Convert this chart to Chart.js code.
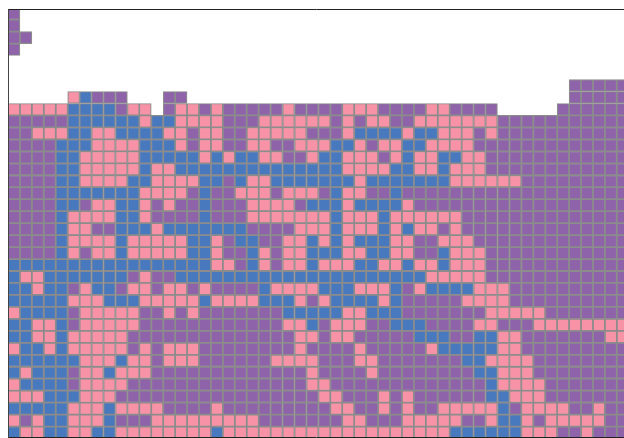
<!DOCTYPE html>
<html>
<head>
<meta charset="utf-8">
<style>
  html, body { margin: 0; padding: 0; background: #fff; }
  canvas { display: block; }
</style>
<script src="https://cdn.jsdelivr.net/npm/chart.js@4/dist/chart.umd.min.js"></script>
</head>
<body>
<canvas id="grid-chart" width="624" height="438"></canvas>
<script>
const states = ['p', 'k', 'b'];
const stateColors = { p: '#8e63a9', k: '#f892a6', b: '#4878bd' };
const empty17 = '.................';

// one string per row, top to bottom: p purple, k pink, b blue, . no cell
const rows = [
  'p................' + empty17 + '..................',
  'p................' + empty17 + '..................',
  'pp...............' + empty17 + '..................',
  'p................' + empty17 + '..................',
  empty17 + empty17 + '..................',
  empty17 + empty17 + '..................',
  empty17 + empty17 + '.............ppppp',
  '.....kbppp...pp..' + empty17 + '.............ppppp',
  'kkkkkbbbbpkk.pkkp' + 'kpppppkppppkkkppp' + 'pkkpppp.....pppppp',
  'pppppbbbbbbkbbkkk' + 'kpppkkkkkkpkpkkpp' + 'kkkkkkkppppppppppp',
  'ppkkkbbkkbbbbkkpk' + 'kppkkkkkpppkbbbbk' + 'bbkkkpkppppppppppp',
  'ppppbbbkkkkbbbkpk' + 'kppkkppkkkbbkpkkb' + 'bkkkkppppppppppppp',
  'ppppbbkkkkkbbbbbk' + 'bkbbkkppkbbkkkpkb' + 'kkbbkkpppppppppppp',
  'ppppbbkkkkkbkkbbb' + 'bbbbbbbbbbbkkkkbb' + 'kkbkkkpppppppppppp',
  'ppppbbkkkkbbkkkkb' + 'bpbkkbbbbbbbkbbbb' + 'bbbkkkkkkppppppppp',
  'ppppbbbbbbbkkkkpb' + 'ppkkkpkkkpbkkppbp' + 'pppppppppppppppppp',
  'ppppbbpkkbbkpkppb' + 'pppkkkkpbbbkbbbbk' + 'pppppppppppppppppp',
  'ppppbkkkkbbkppppb' + 'pppkkkkkkkbkkkbkk' + 'kkkkpppppppppppppp',
  'ppppbkkppbbbkbbbb' + 'bbbppppkkkbkkkbkb' + 'kkpkpppppppppppppp',
  'ppppbkkkkbkkkkkbb' + 'kpbbppkkbkbkbbbkk' + 'ppkkkppppppppppppp',
  'ppppbkpkkbkkkkkbb' + 'kppbkpkkbbbkkbbkk' + 'ppbkkkpppppppppppp',
  'bbbbbbbbbbbbbbbbb' + 'kkpbkpkkbkkkbbkkb' + 'kkbkkkpppppppppppp',
  'bkkbbbbbbbpkppbbb' + 'bbbbbbbbbbbbbbbbb' + 'bkkkkkpppppppppppp',
  'bbkbbpkbbpkkpkkpk' + 'ppppbkkkkbbbkkkbp' + 'kbbbbkkkpppppppppp',
  'bbbbbkkkbbbkkkkkb' + 'kkkkbbbkpkbbbbkbp' + 'ppppkkkkpppppppppp',
  'kbbbbpkkkkkppkpkp' + 'ppppppbbbbbkkbbbp' + 'ppppppkkkkkppppppp',
  'bbkkbpkkkkkpppppp' + 'ppppppkkbpkkkppbb' + 'bppppkkpppkkkkkkkk',
  'bbkkbkkkkkppppppp' + 'pppppppkkpkkppppp' + 'bbbppbbkkpppppppkk',
  'kbbkbkkkkkpkpkkkp' + 'pppppppkppppkpppp' + 'pkbbbbbkkppppppppp',
  'bbbbbbkkkbkkpkkkp' + 'pppppkkkkpppkkppp' + 'ppppbbkkkkpppppppp',
  'bkbbbpkkbkkkppppp' + 'ppppppppkppppkppp' + 'pppppbbkkkpppppppp',
  'kbbbbpkkkkppppppp' + 'ppppppppkkppppppp' + 'ppppppbkkkkppppppp',
  'kkkbbbkkkpppppppp' + 'pppppppppkkpppkpk' + 'ppppppbbkkkppppppp',
  'bbbbbkkkbkkkkpppp' + 'kpppppppppkkppkpk' + 'ppkkkkkbpkkkkppkpp',
  'kpkbbkkkbpppkkkkk' + 'kkkkpppppppkkpppk' + 'kkkkppkbbkpkkkkkpp',
  'bkkbbkkbbkkkkkkkk' + 'bkkkkkkkkkkkkkkkk' + 'kkkbbbbbbkkkppkppp'
];

// one dataset per state, every cell is a floating bar [row, row + 1]
function cellsFor(state) {
  const cells = [];
  rows.forEach((row, r) => {
    row.split('').forEach((code, c) => {
      if (code === state) cells.push({ x: c + 0.5, y: [r, r + 1] });
    });
  });
  return cells;
}

const hiddenMarks = { display: false, drawTicks: false };

const ctx = document.getElementById('grid-chart').getContext('2d');
new Chart(ctx, {
  type: 'bar',
  data: {
    datasets: states.map(state => ({
      label: state,
      data: cellsFor(state),
      backgroundColor: stateColors[state],
      borderColor: '#8c8c8c',
      borderWidth: 1.2,
      borderSkipped: false,
      inflateAmount: 0.3,
      categoryPercentage: 1,
      barPercentage: 1,
      grouped: false
    }))
  },
  options: {
    responsive: false,
    animation: false,
    layout: { padding: { left: 8, top: 9, right: 0, bottom: 1 } },
    plugins: { legend: { display: false }, tooltip: { enabled: false } },
    scales: {
      x: {
        type: 'linear',
        offset: false,
        min: 0,
        max: 51.6,
        grid: hiddenMarks,
        ticks: { display: false },
        border: { display: true, color: '#222', width: 1, z: 1 }
      },
      xTop: {
        type: 'linear',
        position: 'top',
        axis: 'x',
        display: true,
        offset: false,
        min: 0,
        max: 51.6,
        grid: hiddenMarks,
        ticks: { display: false },
        border: { display: true, color: '#222', width: 1, z: 1 }
      },
      y: {
        reverse: true,
        min: 0.11,
        max: 35.87,
        grid: hiddenMarks,
        ticks: { display: false },
        border: { display: true, color: '#444', width: 1, z: 1 }
      }
    }
  }
});
</script>
</body>
</html>
